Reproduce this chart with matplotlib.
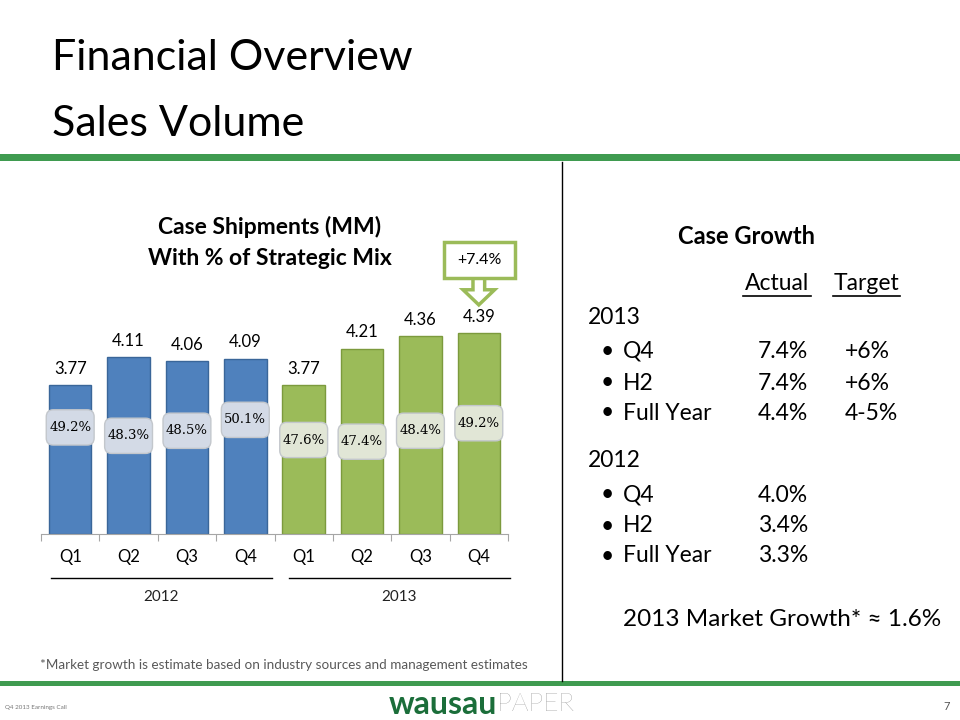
import matplotlib
matplotlib.use("Agg")
import matplotlib.pyplot as plt
from matplotlib.patches import FancyBboxPatch, Polygon, Rectangle
from matplotlib.lines import Line2D

quarters = ["Q1", "Q2", "Q3", "Q4", "Q1", "Q2", "Q3", "Q4"]
years = ["2012", "2013"]
shipments = [3.77, 4.11, 4.06, 4.09, 3.77, 4.21, 4.36, 4.39]
strategic_mix = ["49.2%", "48.3%", "48.5%", "50.1%", "47.6%", "47.4%", "48.4%", "49.2%"]
callout_text = "+7.4%"

growth_rows = [
    ("2013", None, None),
    ("Q4", "7.4%", "+6%"),
    ("H2", "7.4%", "+6%"),
    ("Full Year", "4.4%", "4-5%"),
    ("2012", None, None),
    ("Q4", "4.0%", None),
    ("H2", "3.4%", None),
    ("Full Year", "3.3%", None),
]
market_growth = "2013 Market Growth* \u2248 1.6%"

W, H = 960, 720
FONT = "Lato"
BLUE, BLUE_EDGE = "#4f81bd", "#3a6699"
GREEN, GREEN_EDGE = "#9bbb59", "#7c9a3d"
RULE = "#3f9b50"


def fx(x):
    return x / W


def fy(y):
    return 1 - y / H


fig = plt.figure(figsize=(9.6, 7.2), dpi=100)

# slide header
fig.text(fx(52), fy(58), "Financial Overview", fontsize=31, family=FONT, va="center")
fig.text(fx(52), fy(124), "Sales Volume", fontsize=31, family=FONT, va="center")
fig.add_artist(Rectangle((0, fy(161)), 1, 7 / H, transform=fig.transFigure, color=RULE, lw=0))
fig.add_artist(Rectangle((0, fy(686)), 1, 5 / H, transform=fig.transFigure, color=RULE, lw=0))
fig.add_artist(Line2D([fx(562), fx(562)], [fy(162), fy(681)], color="black", lw=1))

# chart
ax = fig.add_axes([fx(41), fy(534), 467 / W, 235 / H])
x = list(range(len(shipments)))
colors = [BLUE] * 4 + [GREEN] * 4
edges = [BLUE_EDGE] * 4 + [GREEN_EDGE] * 4
ax.bar(x, [v - 2.0 for v in shipments], bottom=2.0, width=0.73,
       color=colors, edgecolor=edges, linewidth=1)
ax.set_xlim(-0.5, 7.5)
ax.set_ylim(2.0, 4.8)
for s in ["top", "left", "right"]:
    ax.spines[s].set_visible(False)
ax.spines["bottom"].set_color("#a6a6a6")
ax.set_yticks([])
ax.set_xticks([i - 0.5 for i in range(9)])
ax.set_xticklabels([])
ax.tick_params(axis="x", which="major", length=5, color="#a6a6a6")
ax.set_xticks(x, minor=True)
ax.set_xticklabels(quarters, minor=True, fontsize=12, family=FONT)
ax.tick_params(axis="x", which="minor", length=0, pad=11)

for i, v in enumerate(shipments):
    ax.annotate(f"{v:.2f}", (i, v), xytext=(0, 6), textcoords="offset points",
                ha="center", va="bottom", fontsize=12, family=FONT)

# strategic mix labels (placed inside bars)
mix_y = [3.27, 3.17, 3.23, 3.36, 3.12, 3.10, 3.23, 3.32]
box_fc = ["#d3dae6"] * 4 + ["#e1e6d6"] * 4
bw, bh = 0.82, 0.42
for i, (lab, yy) in enumerate(zip(strategic_mix, mix_y)):
    ax.add_patch(FancyBboxPatch((i - bw / 2, yy - bh / 2), bw, bh,
                                boxstyle="round,pad=0,rounding_size=0.12",
                                mutation_aspect=0.7, fc=box_fc[i], ec="#c3c7cc",
                                lw=1, zorder=3))
    ax.text(i, yy, lab, ha="center", va="center", fontsize=9.5,
            family="DejaVu Serif", zorder=4)

# year groupings
tr = ax.get_xaxis_transform()
for (x0, x1), yr in zip([(-0.33, 3.46), (3.75, 7.53)], years):
    ax.plot([x0, x1], [-0.187, -0.187], color="black", lw=1, transform=tr, clip_on=False)
    ax.text((x0 + x1) / 2, -0.27, yr, ha="center", va="center", fontsize=11,
            family=FONT, transform=tr, color="#222222")

# callout above last bar
cx = 7
ax.add_patch(Rectangle((cx - 0.6, 5.05), 1.22, 0.43, fill=True, fc="white",
                       ec=GREEN, lw=2.5, clip_on=False))
ax.text(cx + 0.01, 5.265, callout_text, ha="center", va="center", fontsize=11.5, family=FONT)
arrow = [(cx - 0.1, 5.05), (cx - 0.1, 4.91), (cx - 0.27, 4.91), (cx, 4.73),
         (cx + 0.27, 4.91), (cx + 0.1, 4.91), (cx + 0.1, 5.05)]
ax.add_patch(Polygon(arrow, closed=False, fill=False, ec=GREEN, lw=2.5, clip_on=False,
                     joinstyle="miter"))

fig.text(fx(270), fy(227), "Case Shipments (MM)", ha="center", va="center",
         fontsize=16.5, fontweight="bold", family=FONT)
fig.text(fx(270), fy(258), "With % of Strategic Mix", ha="center", va="center",
         fontsize=16.5, fontweight="bold", family=FONT)

fig.text(fx(40), fy(665), "*Market growth is estimate based on industry sources and management estimates",
         fontsize=9.7, family=FONT, color="#595959", va="center")

# right panel
fs = 16.5
fig.text(fx(747), fy(237), "Case Growth", ha="center", va="center", fontsize=17,
         fontweight="bold", family=FONT)
for lab, xc, x0, x1 in [("Actual", 777, 743, 811), ("Target", 867, 833, 900)]:
    fig.text(fx(xc), fy(284), lab, ha="center", va="center", fontsize=fs, family=FONT)
    fig.add_artist(Line2D([fx(x0), fx(x1)], [fy(296), fy(296)], color="black", lw=1.2))

row_y = [317, 351, 383, 413, 461, 495, 526, 556]
for (lab, act, tgt), yy in zip(growth_rows, row_y):
    if act is None:
        fig.text(fx(588), fy(yy), lab, va="center", fontsize=fs, family=FONT)
        continue
    fig.text(fx(607), fy(yy), "\u2022", va="center", ha="center", fontsize=fs, family=FONT)
    fig.text(fx(623), fy(yy), lab, va="center", fontsize=fs, family=FONT)
    fig.text(fx(808), fy(yy), act, va="center", ha="right", fontsize=fs, family=FONT)
    if tgt:
        fig.text(fx(845), fy(yy), tgt, va="center", ha="left", fontsize=fs, family=FONT)

fig.text(fx(623), fy(620), market_growth, va="center", fontsize=17.5, family=FONT)

# footer
fig.text(fx(5), fy(708), "Q4 2013 Earnings Call", fontsize=4.5, family=FONT, color="#777777",
         va="center")
fig.text(fx(497), fy(704), "wausau", ha="right", va="center", fontsize=23,
         fontweight="bold", family=FONT, color="#1b6e3a")
fig.text(fx(497), fy(704), "PAPER", ha="left", va="center", fontsize=19,
         fontweight="light", family=FONT, color="#777777")
fig.text(fx(950), fy(706), "7", ha="right", va="center", fontsize=8, family=FONT, color="#555555")

fig.savefig("out.png", dpi=100)
